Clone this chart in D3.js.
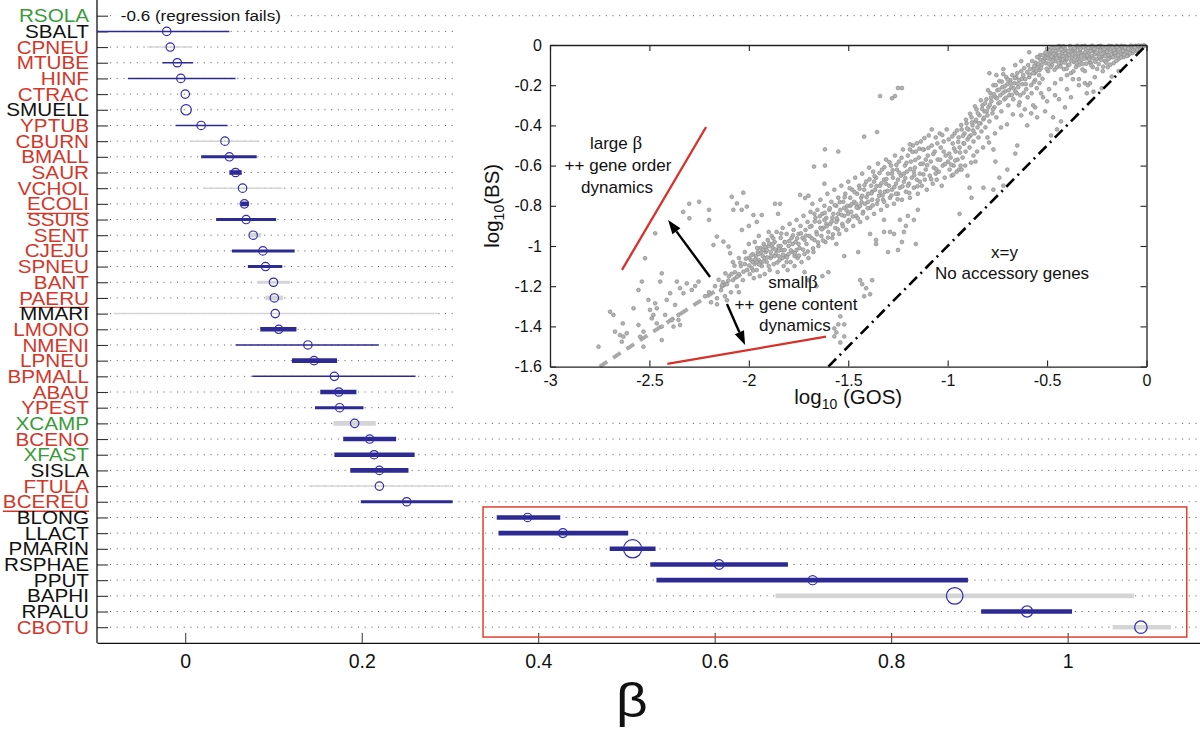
<!DOCTYPE html>
<html><head><meta charset="utf-8">
<script src="https://cdn.jsdelivr.net/npm/d3@7"></script>
<style>
body{margin:0;background:#fff}
svg{display:block}
text{font-family:"Liberation Sans",Arial,Helvetica,sans-serif}
</style>
</head><body>
<svg id="c" width="1200" height="733"></svg>
<script>
// ---------------- main panel data ----------------
const genomes = ["RSOLA","SBALT","CPNEU","MTUBE","HINF","CTRAC","SMUELL","YPTUB","CBURN","BMALL",
 "SAUR","VCHOL","ECOLI","SSUIS","SENT","CJEJU","SPNEU","BANT","PAERU","MMARI",
 "LMONO","NMENI","LPNEU","BPMALL","ABAU","YPEST","XCAMP","BCENO","XFAST","SISLA",
 "FTULA","BCEREU","BLONG","LLACT","PMARIN","RSPHAE","PPUT","BAPHI","RPALU","CBOTU"];
const labelGroup = ["g","k","r","r","r","r","k","r","r","r",
 "r","r","r","r","r","r","r","r","r","k",
 "r","r","r","r","r","r","g","r","g","k",
 "r","r","k","k","k","k","k","k","k","r"];
const underlined = ["ECOLI","PAERU","BCEREU"];
const betaEst = [null,-0.021,-0.017,-0.009,-0.005,0.000,0.001,0.018,0.045,0.050,
 0.057,0.065,0.067,0.069,0.077,0.088,0.091,0.100,0.101,0.102,
 0.106,0.139,0.146,0.169,0.174,0.175,0.192,0.209,0.214,0.220,
 0.220,0.251,0.388,0.428,0.507,0.605,0.711,0.872,0.954,1.083];
const betaLo = [null,-0.100,-0.043,-0.026,-0.065,null,null,-0.011,0.006,0.018,
 0.050,0.020,0.063,0.035,0.073,0.053,0.071,0.082,0.091,-0.081,
 0.085,0.057,0.121,0.076,0.153,0.147,0.168,0.179,0.169,0.187,
 0.140,0.199,0.353,0.355,0.481,0.527,0.534,0.669,0.902,1.051];
const betaHi = [null,0.050,0.008,0.009,0.057,null,null,0.048,0.082,0.081,
 0.064,0.110,0.072,0.103,0.086,0.124,0.110,0.119,0.111,0.286,
 0.126,0.219,0.172,0.261,0.194,0.202,0.216,0.239,0.260,0.253,
 0.301,0.303,0.425,0.502,0.533,0.683,0.887,1.075,1.005,1.117];
const significant = [0,1,0,1,1,1,1,1,0,1, 1,0,1,1,0,1,1,0,0,0, 1,1,1,1,1,1,0,1,1,1, 0,1,1,1,1,1,1,0,1,0];
const precisionClass = [0,1,1,1,1,0,0,1,1,2, 3,1,3,2,3,2,2,2,3,1, 3,1,3,1,3,2,3,3,3,3, 1,2,3,3,3,3,3,3,3,3];
const markerWeight = [1,1,1,1,1,1,1.25,1,1,1, 1,1,1,1,1,1,1,1,1,1, 1,1,1,1,1,1,1,1,1,1, 1,1,1,1.05,2.2,1.15,1.1,2,1.35,1.5];
const xTicks = [0,0.2,0.4,0.6,0.8,1];
const failNote = {row:"RSOLA", beta:-0.073, text:"-0.6 (regression fails)"};
const highlight = {from:"BLONG", to:"CBOTU", lo:0.3375, hi:1.135};

// ---------------- inset data ----------------
const gosTicks = [-3,-2.5,-2,-1.5,-1,-0.5,0];
const bsTicks = [0,-0.2,-0.4,-0.6,-0.8,-1,-1.2,-1.4,-1.6];
const scatterPoints = [
 // top-right cap
 [-0.01,-0.004],[-0.02,-0.01],[-0.03,-0.006],[-0.035,-0.02],[-0.045,-0.012],[-0.05,-0.03],[-0.055,-0.004],[-0.065,-0.018],[-0.07,-0.04],[-0.075,-0.008],
 [-0.085,-0.026],[-0.09,-0.05],[-0.095,-0.012],[-0.105,-0.035],[-0.11,-0.006],[-0.115,-0.06],[-0.12,-0.022],[-0.13,-0.045],[-0.135,-0.01],[-0.14,-0.07],
 [-0.145,-0.03],[-0.155,-0.055],[-0.16,-0.016],[-0.165,-0.09],[-0.17,-0.04],[-0.175,-0.006],[-0.185,-0.065],[-0.19,-0.026],[-0.195,-0.11],[-0.2,-0.048],
 [-0.205,-0.012],[-0.21,-0.08],[-0.215,-0.035],[-0.22,-0.13],[-0.225,-0.058],[-0.23,-0.004],[-0.235,-0.02],[-0.24,-0.095],[-0.245,-0.044],[-0.25,-0.07],
 [-0.255,-0.014],[-0.26,-0.16],[-0.265,-0.03],[-0.27,-0.11],[-0.275,-0.055],[-0.28,-0.008],[-0.285,-0.085],[-0.29,-0.038],[-0.295,-0.2],[-0.3,-0.065],
 [-0.305,-0.02],[-0.31,-0.13],[-0.315,-0.048],[-0.32,-0.095],[-0.325,-0.006],[-0.33,-0.075],[-0.335,-0.03],[-0.34,-0.17],[-0.345,-0.058],[-0.35,-0.012],
 [-0.355,-0.11],[-0.36,-0.04],[-0.365,-0.085],[-0.37,-0.022],[-0.375,-0.065],[-0.38,-0.14],[-0.385,-0.005],[-0.39,-0.05],[-0.395,-0.1],[-0.4,-0.03],
 [-0.405,-0.075],[-0.41,-0.015],[-0.415,-0.12],[-0.42,-0.055],[-0.425,-0.04],[-0.43,-0.09],[-0.435,-0.008],[-0.44,-0.065],[-0.445,-0.025],[-0.45,-0.11],
 [-0.455,-0.045],[-0.46,-0.08],[-0.465,-0.016],[-0.47,-0.06],[-0.475,-0.1],[-0.48,-0.035],[-0.485,-0.07],[-0.49,-0.05],[-0.495,-0.13],[-0.5,-0.02],
 [-0.505,-0.09],[-0.51,-0.06],[-0.06,-0.008],[-0.1,-0.02],[-0.15,-0.004],[-0.18,-0.02],[-0.22,-0.01],[-0.26,-0.045],[-0.27,-0.024],[-0.31,-0.004],
 [-0.33,-0.04],[-0.36,-0.025],[-0.4,-0.06],[-0.44,-0.005],[-0.48,-0.015],[-0.2,-0.03],[-0.24,-0.008],[-0.29,-0.06],[-0.35,-0.07],[-0.38,-0.035],
 [-0.42,-0.028],[-0.46,-0.05],[-0.5,-0.045],[-0.12,-0.035],[-0.16,-0.035],[-0.19,-0.05],[-0.23,-0.07],[-0.28,-0.09],[-0.34,-0.1],[-0.43,-0.07],
 [-0.59,-0.036],[-0.535,-0.05],[-0.3,-0.24],[-0.267,-0.232],[-0.225,-0.215],[-0.284,-0.19],[-0.175,-0.157],[-0.14,-0.13],
 [-0.012,-0.002],[-0.025,-0.004],[-0.04,-0.003],[-0.048,-0.022],[-0.058,-0.011],[-0.068,-0.028],[-0.078,-0.003],[-0.083,-0.041],[-0.092,-0.019],[-0.098,-0.055],
 [-0.108,-0.013],[-0.112,-0.047],[-0.118,-0.029],[-0.126,-0.004],[-0.128,-0.062],[-0.138,-0.021],[-0.142,-0.051],[-0.148,-0.008],[-0.152,-0.079],[-0.158,-0.039],
 [-0.163,-0.024],[-0.168,-0.061],[-0.172,-0.012],[-0.178,-0.047],[-0.182,-0.098],[-0.188,-0.004],[-0.192,-0.071],[-0.198,-0.033],[-0.202,-0.088],[-0.208,-0.056],
 [-0.212,-0.019],[-0.218,-0.108],[-0.222,-0.042],[-0.228,-0.074],[-0.232,-0.028],[-0.238,-0.058],[-0.242,-0.006],[-0.248,-0.119],[-0.252,-0.037],[-0.258,-0.083],
 [-0.262,-0.019],[-0.268,-0.066],[-0.272,-0.004],[-0.278,-0.101],[-0.282,-0.031],[-0.288,-0.071],[-0.292,-0.015],[-0.298,-0.052],[-0.302,-0.093],[-0.308,-0.036],
 [-0.312,-0.068],[-0.318,-0.011],[-0.322,-0.122],[-0.328,-0.054],[-0.332,-0.018],[-0.338,-0.083],[-0.342,-0.041],[-0.348,-0.004],[-0.352,-0.091],[-0.358,-0.061],
 [-0.362,-0.017],[-0.368,-0.131],[-0.372,-0.046],[-0.378,-0.079],[-0.382,-0.013],[-0.388,-0.098],[-0.392,-0.031],[-0.398,-0.068],[-0.402,-0.118],[-0.408,-0.041],
 [-0.412,-0.087],[-0.418,-0.006],[-0.422,-0.071],[-0.428,-0.023],[-0.432,-0.107],[-0.438,-0.049],[-0.442,-0.089],[-0.448,-0.012],[-0.452,-0.067],[-0.458,-0.031],
 [-0.462,-0.123],[-0.468,-0.044],[-0.472,-0.081],[-0.478,-0.057],[-0.482,-0.11],[-0.488,-0.027],[-0.492,-0.093],[-0.498,-0.066],[-0.502,-0.118],[-0.508,-0.037],
 [-0.515,-0.072],[-0.522,-0.051],[-0.527,-0.098],[-0.533,-0.075],[-0.538,-0.125],[-0.543,-0.061],[-0.548,-0.108],[-0.558,-0.088],[-0.563,-0.14],[-0.568,-0.118],
 // upper band, x -0.5 .. -1.0
 [-0.52,-0.08],[-0.53,-0.115],[-0.54,-0.15],[-0.545,-0.095],[-0.55,-0.06],[-0.555,-0.13],[-0.56,-0.175],[-0.565,-0.105],[-0.57,-0.14],[-0.575,-0.08],
 [-0.58,-0.2],[-0.585,-0.12],[-0.59,-0.16],[-0.595,-0.1],[-0.6,-0.135],[-0.605,-0.22],[-0.61,-0.17],[-0.615,-0.115],[-0.62,-0.15],[-0.625,-0.195],
 [-0.63,-0.13],[-0.635,-0.25],[-0.64,-0.175],[-0.645,-0.21],[-0.65,-0.14],[-0.655,-0.16],[-0.66,-0.23],[-0.665,-0.19],[-0.67,-0.27],[-0.675,-0.15],
 [-0.68,-0.21],[-0.685,-0.175],[-0.69,-0.25],[-0.695,-0.3],[-0.7,-0.195],[-0.705,-0.16],[-0.71,-0.23],[-0.715,-0.27],[-0.72,-0.145],[-0.725,-0.21],
 [-0.73,-0.33],[-0.735,-0.25],[-0.74,-0.18],[-0.745,-0.29],[-0.75,-0.225],[-0.755,-0.36],[-0.76,-0.26],[-0.765,-0.31],[-0.77,-0.2],[-0.775,-0.34],
 [-0.78,-0.28],[-0.785,-0.24],[-0.79,-0.38],[-0.795,-0.31],[-0.8,-0.35],[-0.805,-0.27],[-0.81,-0.41],[-0.815,-0.33],[-0.82,-0.37],[-0.825,-0.3],
 [-0.83,-0.43],[-0.835,-0.39],[-0.84,-0.35],[-0.845,-0.46],[-0.85,-0.41],[-0.855,-0.32],[-0.86,-0.38],[-0.865,-0.44],[-0.87,-0.48],[-0.875,-0.4],
 [-0.88,-0.36],[-0.885,-0.45],[-0.89,-0.51],[-0.895,-0.42],[-0.9,-0.47],[-0.905,-0.39],[-0.91,-0.53],[-0.915,-0.44],[-0.92,-0.49],[-0.925,-0.56],
 [-0.93,-0.42],[-0.935,-0.6],[-0.94,-0.51],[-0.945,-0.46],[-0.95,-0.57],[-0.955,-0.63],[-0.96,-0.53],[-0.965,-0.44],[-0.97,-0.6],[-0.975,-0.49],
 [-0.98,-0.65],[-0.985,-0.56],[-0.99,-0.62],[-0.995,-0.47],
 [-0.523,-0.168],[-0.538,-0.19],[-0.552,-0.215],[-0.567,-0.185],[-0.578,-0.24],[-0.588,-0.148],[-0.598,-0.26],[-0.607,-0.195],[-0.618,-0.238],[-0.627,-0.168],
 [-0.638,-0.285],[-0.648,-0.192],[-0.653,-0.24],[-0.662,-0.165],[-0.668,-0.215],[-0.677,-0.248],[-0.683,-0.19],[-0.692,-0.225],[-0.698,-0.172],[-0.707,-0.262],
 [-0.713,-0.205],[-0.722,-0.238],[-0.728,-0.182],[-0.737,-0.285],[-0.742,-0.222],[-0.752,-0.265],[-0.758,-0.2],[-0.767,-0.245],[-0.772,-0.32],[-0.782,-0.262],
 [-0.788,-0.298],[-0.797,-0.225],[-0.803,-0.33],[-0.812,-0.29],[-0.818,-0.362],[-0.827,-0.318],[-0.833,-0.275],[-0.842,-0.39],[-0.848,-0.34],[-0.857,-0.372],
 [-0.863,-0.305],[-0.872,-0.425],[-0.878,-0.385],[-0.887,-0.342],[-0.893,-0.458],[-0.902,-0.415],[-0.908,-0.372],[-0.917,-0.49],[-0.923,-0.452],[-0.932,-0.398],
 [-0.938,-0.535],[-0.947,-0.482],[-0.953,-0.425],[-0.962,-0.575],[-0.968,-0.515],[-0.977,-0.455],[-0.983,-0.595],[-0.992,-0.54],[-0.998,-0.58],
 [-0.612,-0.32],[-0.642,-0.3],[-0.672,-0.345],[-0.702,-0.395],[-0.732,-0.41],[-0.762,-0.44],[-0.792,-0.485],[-0.822,-0.51],[-0.852,-0.53],[-0.882,-0.585],
 [-0.912,-0.6],[-0.942,-0.62],[-0.972,-0.645],[-0.58,-0.34],[-0.56,-0.31],[-0.52,-0.26],[-0.49,-0.22],[-0.46,-0.19],[-0.43,-0.17],[-0.4,-0.15],
 [-0.37,-0.17],[-0.34,-0.2],[-0.31,-0.19],
 [-0.38,-0.26],[-0.4,-0.22],[-0.41,-0.31],[-0.43,-0.38],[-0.44,-0.27],[-0.45,-0.42],[-0.46,-0.25],[-0.47,-0.36],[-0.48,-0.45],[-0.5,-0.28],
 [-0.51,-0.33],[-0.53,-0.24],[-0.55,-0.36],[-0.57,-0.3],[-0.6,-0.4],[-0.63,-0.35],[-0.65,-0.5],[-0.66,-0.54],[-0.7,-0.62],[-0.72,-0.7],
 [-0.74,-0.66],[-0.76,-0.58],[-0.77,-0.52],[-0.77,-0.72],[-0.8,-0.46],[-0.82,-0.71],[-0.86,-0.58],[-0.88,-0.76],[-0.89,-0.71],[-0.9,-0.65],
 [-0.94,-0.84],[-0.93,-0.62],[-0.87,-0.55],[-0.79,-0.14],[-0.755,-0.15],[-0.72,-0.12],[-0.66,-0.1],[-0.63,-0.08],
 // main band, x -1.0 .. -1.7
 [-1.005,-0.42],[-1.01,-0.55],[-1.015,-0.66],[-1.02,-0.48],[-1.025,-0.6],[-1.03,-0.7],[-1.035,-0.51],[-1.04,-0.44],[-1.045,-0.63],[-1.05,-0.57],
 [-1.055,-0.67],[-1.06,-0.46],[-1.065,-0.53],[-1.07,-0.61],[-1.075,-0.69],[-1.08,-0.5],[-1.085,-0.58],[-1.09,-0.65],[-1.095,-0.45],[-1.1,-0.55],
 [-1.105,-0.72],[-1.11,-0.62],[-1.115,-0.67],[-1.12,-0.52],[-1.125,-0.59],[-1.13,-0.7],[-1.135,-0.48],[-1.14,-0.64],[-1.145,-0.56],[-1.15,-0.74],
 [-1.155,-0.67],[-1.16,-0.53],[-1.165,-0.61],[-1.17,-0.71],[-1.175,-0.5],[-1.18,-0.66],[-1.185,-0.58],[-1.19,-0.76],[-1.195,-0.69],[-1.2,-0.55],
 [-1.205,-0.63],[-1.21,-0.73],[-1.215,-0.6],[-1.22,-0.68],[-1.225,-0.52],[-1.23,-0.77],[-1.235,-0.65],[-1.24,-0.71],[-1.245,-0.58],[-1.25,-0.74],
 [-1.255,-0.62],[-1.26,-0.69],[-1.265,-0.55],[-1.27,-0.79],[-1.275,-0.66],[-1.28,-0.72],[-1.285,-0.6],[-1.29,-0.76],[-1.295,-0.7],[-1.3,-0.64],
 [-1.305,-0.8],[-1.31,-0.57],[-1.315,-0.73],[-1.32,-0.67],[-1.325,-0.77],[-1.33,-0.62],[-1.335,-0.82],[-1.34,-0.7],[-1.345,-0.75],[-1.35,-0.59],
 [-1.355,-0.79],[-1.36,-0.66],[-1.365,-0.72],[-1.37,-0.84],[-1.375,-0.63],[-1.38,-0.77],[-1.385,-0.7],[-1.39,-0.81],[-1.395,-0.61],[-1.4,-0.74],
 [-1.405,-0.86],[-1.41,-0.68],[-1.415,-0.79],[-1.42,-0.72],[-1.425,-0.83],[-1.43,-0.64],[-1.435,-0.76],[-1.44,-0.88],[-1.445,-0.7],[-1.45,-0.81],
 [-1.455,-0.74],[-1.46,-0.85],[-1.465,-0.66],[-1.47,-0.78],[-1.475,-0.9],[-1.48,-0.72],[-1.485,-0.83],[-1.49,-0.76],[-1.495,-0.87],[-1.5,-0.68],
 [-1.505,-0.8],[-1.51,-0.92],[-1.515,-0.74],[-1.52,-0.85],[-1.525,-0.78],[-1.53,-0.89],[-1.535,-0.7],[-1.54,-0.82],[-1.545,-0.94],[-1.55,-0.76],
 [-1.555,-0.87],[-1.56,-0.8],[-1.565,-0.91],[-1.57,-0.72],[-1.575,-0.84],[-1.58,-0.96],[-1.585,-0.78],[-1.59,-0.89],[-1.595,-0.82],[-1.6,-0.93],
 [-1.605,-0.74],[-1.61,-0.86],[-1.615,-0.98],[-1.62,-0.8],[-1.625,-0.91],[-1.63,-0.84],[-1.635,-0.95],[-1.64,-0.77],[-1.645,-0.88],[-1.65,-1.0],
 [-1.655,-0.82],[-1.66,-0.93],[-1.665,-0.86],[-1.67,-0.97],[-1.675,-1.03],[-1.68,-0.79],[-1.685,-0.9],
 [-1.02,-0.53],[-1.06,-0.64],[-1.08,-0.42],[-1.11,-0.57],[-1.14,-0.68],[-1.17,-0.63],[-1.19,-0.52],[-1.22,-0.64],[-1.25,-0.67],[-1.28,-0.64],
 [-1.31,-0.69],[-1.34,-0.73],[-1.37,-0.68],[-1.4,-0.78],[-1.43,-0.75],[-1.46,-0.79],[-1.49,-0.8],[-1.52,-0.81],[-1.55,-0.84],[-1.58,-0.86],
 [-1.61,-0.89],[-1.64,-0.91],[-1.67,-0.84],[-1.2,-0.7],[-1.26,-0.74],[-1.32,-0.78],[-1.38,-0.73],[-1.44,-0.8],[-1.5,-0.84],[-1.56,-0.88],[-1.62,-0.87],
 [-1.013,-0.592],[-1.027,-0.448],[-1.038,-0.571],[-1.052,-0.489],[-1.058,-0.618],[-1.072,-0.542],[-1.083,-0.668],[-1.097,-0.512],[-1.103,-0.598],[-1.117,-0.463],
 [-1.122,-0.644],[-1.137,-0.592],[-1.142,-0.516],[-1.152,-0.703],[-1.163,-0.572],[-1.168,-0.648],[-1.177,-0.532],[-1.188,-0.617],[-1.193,-0.736],[-1.207,-0.586],
 [-1.213,-0.662],[-1.227,-0.703],[-1.232,-0.561],[-1.243,-0.635],[-1.252,-0.767],[-1.258,-0.596],[-1.268,-0.707],[-1.277,-0.623],[-1.283,-0.748],[-1.293,-0.583],
 [-1.302,-0.726],[-1.308,-0.667],[-1.318,-0.608],[-1.327,-0.748],[-1.333,-0.688],[-1.343,-0.637],[-1.352,-0.772],[-1.358,-0.702],[-1.368,-0.652],[-1.377,-0.798],
 [-1.383,-0.738],[-1.393,-0.668],[-1.402,-0.812],[-1.408,-0.757],[-1.418,-0.697],[-1.427,-0.838],[-1.433,-0.782],[-1.443,-0.715],[-1.452,-0.862],[-1.458,-0.808],
 [-1.468,-0.732],[-1.477,-0.853],[-1.483,-0.792],[-1.493,-0.712],[-1.502,-0.878],[-1.508,-0.823],[-1.518,-0.757],[-1.527,-0.902],[-1.533,-0.845],[-1.543,-0.782],
 [-1.552,-0.918],[-1.558,-0.862],[-1.568,-0.797],[-1.577,-0.942],[-1.583,-0.878],[-1.593,-0.812],[-1.602,-0.958],[-1.608,-0.902],[-1.618,-0.835],[-1.627,-0.972],
 [-1.633,-0.917],[-1.643,-0.852],[-1.652,-0.982],[-1.658,-0.942],[-1.668,-0.878],[-1.677,-1.012],[-1.683,-0.962],[-1.693,-0.905],
 [-1.2,-0.85],[-1.21,-0.9],[-1.22,-0.93],[-1.24,-0.87],[-1.27,-0.94],[-1.29,-0.93],[-1.32,-0.87],[-1.32,-0.93],[-1.36,-0.97],[-1.39,-0.94],
 [-1.17,-0.87],[-1.15,-0.82],[-1.16,-0.99],[-1.25,-1.02],[-1.3,-1.03],[-1.38,-1.17],[-1.39,-1.24],[-1.41,-1.21],[-1.42,-1.25],[-1.43,-1.19],
 [-1.44,-1.17],[-1.45,-1.03],[-1.52,-1.05],[-1.56,-0.99],[-1.54,-1.35],[-1.55,-1.39],[-1.56,-1.43],[-1.57,-1.41],[-1.57,-1.45],[-1.54,-1.48],
 [-1.52,-1.45],[-1.52,-1.39],[-1.36,-0.99],[-1.23,-0.98],
 [-1.34,-0.254],[-1.28,-0.265],[-1.265,-0.254],[-1.25,-0.214],[-1.23,-0.214],[-1.42,-0.456],[-1.355,-0.433],[-1.617,-0.519],[-1.55,-0.53],[-1.672,-0.605],
 [-1.617,-0.6],[-1.19,-0.494],[-1.155,-0.489],[-1.125,-0.519],[-1.62,-0.69],[-1.7,-0.75],[-1.742,-0.746],[-1.717,-0.761],
 // dense cluster, x -1.7 .. -2.2
 [-1.69,-0.83],[-1.695,-0.95],[-1.7,-1.06],[-1.705,-0.88],[-1.71,-0.99],[-1.715,-0.92],[-1.72,-1.04],[-1.725,-0.85],[-1.73,-0.96],[-1.735,-1.08],
 [-1.74,-0.9],[-1.745,-1.01],[-1.75,-0.94],[-1.755,-1.06],[-1.76,-0.87],[-1.765,-0.98],[-1.77,-1.1],[-1.775,-0.92],[-1.78,-1.03],[-1.785,-0.96],
 [-1.79,-1.08],[-1.795,-0.89],[-1.8,-1.0],[-1.805,-1.12],[-1.81,-0.94],[-1.815,-1.05],[-1.82,-0.98],[-1.825,-1.1],[-1.83,-0.91],[-1.835,-1.02],
 [-1.84,-0.96],[-1.845,-1.07],[-1.85,-1.0],[-1.855,-1.13],[-1.86,-0.93],[-1.865,-1.04],[-1.87,-0.98],[-1.875,-1.09],[-1.88,-1.01],[-1.885,-0.95],
 [-1.89,-1.06],[-1.895,-1.12],[-1.9,-1.0],[-1.905,-0.97],[-1.91,-1.08],[-1.915,-1.03],[-1.92,-1.14],[-1.925,-0.99],[-1.93,-1.05],[-1.935,-1.1],
 [-1.94,-1.01],[-1.945,-1.15],[-1.95,-1.07],[-1.955,-1.03],[-1.96,-1.12],[-1.965,-1.05],[-1.97,-1.09],[-1.975,-1.16],[-1.98,-1.04],[-1.985,-1.11],
 [-1.99,-1.07],[-1.995,-1.14],[-2.0,-1.06],[-2.01,-1.12],[-2.02,-1.09],[-2.03,-1.17],[-2.04,-1.1],[-2.05,-1.14],[-2.06,-1.2],[-2.07,-1.13],
 [-2.08,-1.17],[-2.09,-1.23],[-2.1,-1.15],[-2.11,-1.19],[-2.12,-1.25],[-2.13,-1.18],[-2.14,-1.22],[-2.16,-1.26],[-2.17,-1.2],[-2.19,-1.28],[-2.2,-1.23],
 [-1.72,-0.97],[-1.76,-1.02],[-1.78,-0.99],[-1.8,-1.04],[-1.82,-1.02],[-1.83,-1.06],[-1.84,-1.0],[-1.86,-1.02],[-1.87,-1.05],[-1.88,-0.99],
 [-1.89,-1.03],[-1.91,-1.02],[-1.92,-1.06],[-1.93,-1.02],[-1.95,-1.04],[-1.96,-1.08],[-1.98,-1.08],[-1.75,-0.99],[-1.77,-1.05],[-1.81,-1.08],
 [-1.85,-1.05],[-1.9,-1.1],[-1.94,-1.08],[-1.9,-0.93],[-1.95,-0.95],[-1.97,-0.98],[-2.0,-0.99],[-2.02,-1.03],[-2.05,-1.06],[-2.08,-1.08],
 [-1.703,-1.027],[-1.712,-0.948],[-1.727,-1.018],[-1.738,-0.937],[-1.748,-1.048],[-1.757,-0.962],[-1.768,-1.037],[-1.778,-0.947],[-1.788,-1.022],[-1.797,-0.975],
 [-1.808,-1.057],[-1.817,-0.982],[-1.828,-1.043],[-1.837,-0.938],[-1.848,-1.023],[-1.857,-1.082],[-1.868,-1.017],[-1.877,-0.962],[-1.888,-1.048],[-1.897,-0.987],
 [-1.908,-1.057],[-1.918,-1.004],[-1.928,-1.077],[-1.938,-1.032],[-1.948,-1.092],[-1.958,-1.01],[-1.968,-1.067],[-1.978,-1.122],[-1.988,-1.047],[-1.998,-1.097],
 [-2.015,-1.063],[-2.027,-1.128],[-2.043,-1.083],[-2.058,-1.152],[-2.072,-1.098],[-2.087,-1.139],[-2.103,-1.172],[-2.118,-1.136],[-2.135,-1.195],[-2.152,-1.168],
 [-1.7,-1.17],[-1.66,-1.2],[-1.63,-1.15],[-1.6,-1.13],[-1.72,-1.13],
 [-2.30,-0.79],[-2.33,-0.83],[-2.25,-0.78],[-2.20,-0.82],[-2.20,-0.87],[-2.299,-0.862],[-2.086,-0.755],[-2.028,-0.735],[-2.078,-0.82],[-2.036,-0.82],
 [-1.977,-0.846],[-1.935,-0.846],[-1.868,-0.79],[-1.843,-0.79],[-1.853,-0.84],[-2.06,-0.788],[-2.01,-0.804],[-2.178,-0.995],[-2.161,-0.953],[-2.128,-0.978],
 [-2.102,-1.003],[-2.094,-1.036],[-2.035,-0.92],[-2.0,-0.9],[-1.96,-0.88],
 // sparse left region
 [-2.756,-1.501],[-2.698,-1.327],[-2.681,-1.343],[-2.673,-1.426],[-2.648,-1.443],[-2.639,-1.476],[-2.631,-1.451],[-2.614,-1.434],[-2.634,-1.385],[-2.58,-1.31],
 [-2.555,-1.393],[-2.547,-1.451],[-2.53,-1.426],[-2.53,-1.501],[-2.505,-1.268],[-2.497,-1.318],[-2.488,-1.36],[-2.48,-1.343],[-2.471,-1.285],[-2.463,-1.31],
 [-2.463,-1.385],[-2.438,-1.401],[-2.438,-1.468],[-2.421,-1.343],[-2.413,-1.268],[-2.396,-1.235],[-2.387,-1.368],[-2.379,-1.401],[-2.371,-1.293],[-2.354,-1.343],
 [-2.354,-1.368],[-2.346,-1.393],[-2.555,-1.219],[-2.538,-1.177],[-2.522,-1.061],[-2.471,-0.937],[-2.446,-1.177],[-2.438,-1.136],[-2.362,-1.177],[-2.346,-1.21],
 [-2.329,-1.235],[-2.312,-1.186],[-2.287,-1.219],[-2.27,-1.199],[-2.253,-1.177],[-2.22,-1.25],[-2.16,-1.29],[-2.11,-1.27],[-2.05,-1.23]
];
const fitLine = [[-2.75,-1.6],[-2.0,-1.115]];
const identityLine = [[-1.6,-1.6],[0,0]];
const largeBetaLine = [[-2.638,-1.119],[-2.215,-0.408]];
const smallBetaLine = [[-2.41,-1.587],[-1.612,-1.451]];
const arrows = [[[-2.195,-1.154],[-2.406,-0.871]], [[-2.110,-1.289],[-2.019,-1.493]]];
const notes = [
 {x:-2.668, y:-0.517, parts:["large ","β"]},
 {x:-2.658, y:-0.627, parts:["++ gene order"]},
 {x:-2.663, y:-0.736, parts:["dynamics"]},
 {x:-1.778, y:-1.209, parts:["small","β"]},
 {x:-1.763, y:-1.318, parts:["++ gene content"]},
 {x:-1.768, y:-1.423, parts:["dynamics"]},
 {x:-0.714, y:-1.060, parts:["x=y"]},
 {x:-0.676, y:-1.164, parts:["No accessory genes"]}
];

// ---------------- drawing ----------------
const svg = d3.select("#c");
const colorOf = {r:"#d2372a", g:"#3a9b3a", k:"#111"};
const BLUE = "#2d2a92", GRAY = "#d5d5d5";
const rows = genomes.map((g,i)=>({g, grp:labelGroup[i], b:betaEst[i], lo:betaLo[i], hi:betaHi[i],
  sig:significant[i], pc:precisionClass[i], mw:markerWeight[i]}));

const x = d3.scaleLinear().domain([-0.1,1.15]).range([97,1200]);
const y = d3.scalePoint().domain(genomes).range([15.7,627.2]);
const step = y.step();
const yTop = y(genomes[0]) - step, yBot = y(genomes[genomes.length-1]) + step;
const widthOf = d3.scaleOrdinal().domain([1,2,3]).range([1.5,3,4.6]);
const rOf = d3.scaleLinear().domain([1,2]).range([4.2,8.3]);

const main = svg.append("g");
main.append("g").selectAll("line").data(rows).join("line")
  .attr("x1", x.range()[0]+13).attr("x2", x.range()[1])
  .attr("y1", d=>y(d.g)).attr("y2", d=>y(d.g))
  .attr("stroke","#666").attr("stroke-width",1).attr("stroke-dasharray","1.1,5.6");

const ax = main.append("g").attr("transform",`translate(${x.range()[0]},0)`)
  .call(d3.axisLeft(y).tickSizeInner(-11).tickSizeOuter(0).tickFormat(""));
ax.select(".domain").remove();
ax.selectAll(".tick line").attr("stroke","#333").attr("stroke-width",1.1);
main.append("line").attr("x1",x.range()[0]).attr("x2",x.range()[0]).attr("y1",yTop).attr("y2",yBot)
  .attr("stroke","#111").attr("stroke-width",1.3);

const labs = main.append("g").selectAll("g").data(rows).join("g")
  .attr("transform", d=>`translate(89,${y(d.g)+6.6}) scale(1.1,1)`);
labs.append("text").attr("text-anchor","end").attr("font-size",18.8)
  .attr("fill", d=>colorOf[d.grp]).text(d=>d.g);
labs.filter(d=>underlined.includes(d.g)).each(function(d){
  const w = this.querySelector("text").getComputedTextLength();
  d3.select(this).append("line").attr("x1",-w).attr("x2",0).attr("y1",2.9).attr("y2",2.9)
    .attr("stroke", colorOf[d.grp]).attr("stroke-width",1.3);
});

const bx = main.append("g").attr("transform",`translate(0,${yBot})`)
  .call(d3.axisBottom(x).tickValues(xTicks).tickSizeInner(-10).tickSizeOuter(0).tickPadding(11).tickFormat(d=>String(d)));
bx.select(".domain").attr("stroke","#111").attr("stroke-width",1.3);
bx.selectAll(".tick line").attr("stroke","#333");
bx.selectAll(".tick text").attr("font-size",19.5).attr("fill","#111")
  .attr("font-family","'Liberation Sans',Arial,sans-serif");
main.append("text").attr("x",632).attr("y",717).attr("text-anchor","middle")
  .attr("font-family","'Liberation Serif','DejaVu Serif',serif").attr("font-size",48)
  .attr("transform","translate(632,717) scale(1.15,1) translate(-632,-717)").attr("fill","#111").text("β");

const dat = rows.filter(d=>d.b!==null);
main.append("g").selectAll("line").data(dat.filter(d=>d.lo!==null)).join("line")
  .attr("x1", d=>x(Math.max(d.lo,x.domain()[0]))).attr("x2", d=>x(d.hi))
  .attr("y1", d=>y(d.g)).attr("y2", d=>y(d.g))
  .attr("stroke", d=>d.sig?BLUE:GRAY).attr("stroke-width", d=>widthOf(d.pc));
main.append("g").selectAll("circle").data(dat).join("circle")
  .attr("cx", d=>x(d.b)).attr("cy", d=>y(d.g)).attr("r", d=>rOf(d.mw))
  .attr("fill","none").attr("stroke","#2f2bb0").attr("stroke-width",1.2);

const fn = main.append("g").attr("transform",`translate(${x(failNote.beta)},${y(failNote.row)+5.5}) scale(1.1,1)`);
const fnt = fn.append("text").attr("font-size",15.5).attr("fill","#111").text(failNote.text);
const fw = fnt.node().getComputedTextLength();
fn.insert("rect","text").attr("x",-4).attr("y",-13).attr("width",fw+8).attr("height",17).attr("fill","#fff");

main.append("rect").attr("x",x(highlight.lo)).attr("y",y(highlight.from)-step*0.67)
  .attr("width",x(highlight.hi)-x(highlight.lo)).attr("height",y(highlight.to)-y(highlight.from)+step*1.3)
  .attr("fill","none").attr("stroke","#e0402f").attr("stroke-width",1.5);

// ---------------- inset ----------------
const ix = d3.scaleLinear().domain([-3,0]).range([550,1146.5]);
const iy = d3.scaleLinear().domain([-1.6,0]).range([366.6,45]);
const ins = svg.append("g");
ins.append("rect").attr("x",453).attr("y",(y("RSOLA")+y("SBALT"))/2+0.5)
  .attr("width",1200-453).attr("height",(y("YPEST")+y("XCAMP"))/2-(y("RSOLA")+y("SBALT"))/2-1).attr("fill","#fff");

const line = d3.line().x(d=>ix(d[0])).y(d=>iy(d[1]));
ins.append("path").attr("d",line(fitLine)).attr("stroke","#a9a9a9").attr("stroke-width",4)
  .attr("stroke-dasharray","9,7").attr("fill","none");
ins.append("g").selectAll("circle").data(scatterPoints).join("circle")
  .attr("cx",d=>ix(d[0])).attr("cy",d=>iy(d[1])).attr("r",1.9)
  .attr("fill","#b4b4b4").attr("stroke","#8c8c8c").attr("stroke-width",0.7);
ins.append("path").attr("d",line(identityLine)).attr("stroke","#000").attr("stroke-width",2.6)
  .attr("stroke-dasharray","11,5,2,5").attr("fill","none");
[largeBetaLine, smallBetaLine].forEach(l=>ins.append("path").attr("d",line(l))
  .attr("stroke","#d9302a").attr("stroke-width",2.3).attr("fill","none"));
arrows.forEach(a=>{
  const [x0,y0]=[ix(a[0][0]),iy(a[0][1])], [x1,y1]=[ix(a[1][0]),iy(a[1][1])];
  const ang=Math.atan2(y1-y0,x1-x0), L=14, Wd=5;
  const bxp=x1-L*Math.cos(ang), byp=y1-L*Math.sin(ang);
  ins.append("line").attr("x1",x0).attr("y1",y0).attr("x2",bxp).attr("y2",byp)
    .attr("stroke","#000").attr("stroke-width",2.4);
  ins.append("path").attr("d",`M${x1},${y1}L${bxp+Wd*Math.sin(ang)},${byp-Wd*Math.cos(ang)}L${bxp-Wd*Math.sin(ang)},${byp+Wd*Math.cos(ang)}Z`)
    .attr("fill","#000");
});

const fmt = d=>String(d);
const ib = ins.append("g").attr("transform",`translate(0,${iy.range()[0]})`)
  .call(d3.axisBottom(ix).tickValues(gosTicks).tickSizeInner(-6).tickSizeOuter(0).tickPadding(8).tickFormat(fmt));
const it = ins.append("g").attr("transform",`translate(0,${iy.range()[1]})`)
  .call(d3.axisTop(ix).tickValues(gosTicks).tickSizeInner(-6).tickSizeOuter(0).tickFormat(""));
const il = ins.append("g").attr("transform",`translate(${ix.range()[0]},0)`)
  .call(d3.axisLeft(iy).tickValues(bsTicks).tickSizeInner(-6).tickSizeOuter(0).tickPadding(8).tickFormat(fmt));
const ir = ins.append("g").attr("transform",`translate(${ix.range()[1]},0)`)
  .call(d3.axisRight(iy).tickValues(bsTicks).tickSizeInner(-6).tickSizeOuter(0).tickFormat(""));
[ib,it,il,ir].forEach(g=>{
  g.select(".domain").attr("stroke","#222").attr("stroke-width",1.3);
  g.selectAll(".tick line").attr("stroke","#222").attr("stroke-width",1.1);
  g.selectAll(".tick text").attr("font-size",16).attr("fill","#111")
   .attr("font-family","'Liberation Sans',Arial,sans-serif");
});

const xt = ins.append("text").attr("x",(ix.range()[0]+ix.range()[1])/2).attr("y",404)
  .attr("text-anchor","middle").attr("font-size",20.5).attr("fill","#111");
xt.append("tspan").text("log");
xt.append("tspan").attr("font-size",14).attr("dy",5).text("10");
xt.append("tspan").attr("dy",-5).text(" (GOS)");
const yt = ins.append("text").attr("transform",`translate(499,${(iy.range()[0]+iy.range()[1])/2}) rotate(-90)`)
  .attr("text-anchor","middle").attr("font-size",20.5).attr("fill","#111");
yt.append("tspan").text("log");
yt.append("tspan").attr("font-size",14).attr("dy",5).text("10");
yt.append("tspan").attr("dy",-5).text("(BS)");

notes.forEach(n=>{
  const t = ins.append("text").attr("x",ix(n.x)).attr("y",iy(n.y)).attr("text-anchor","middle")
    .attr("font-size",17).attr("fill","#111");
  n.parts.forEach(p=>{
    const s=t.append("tspan").text(p);
    if(p==="β") s.attr("font-family","'Liberation Serif','DejaVu Serif',serif").attr("font-size",19);
  });
});
</script>
</body></html>
